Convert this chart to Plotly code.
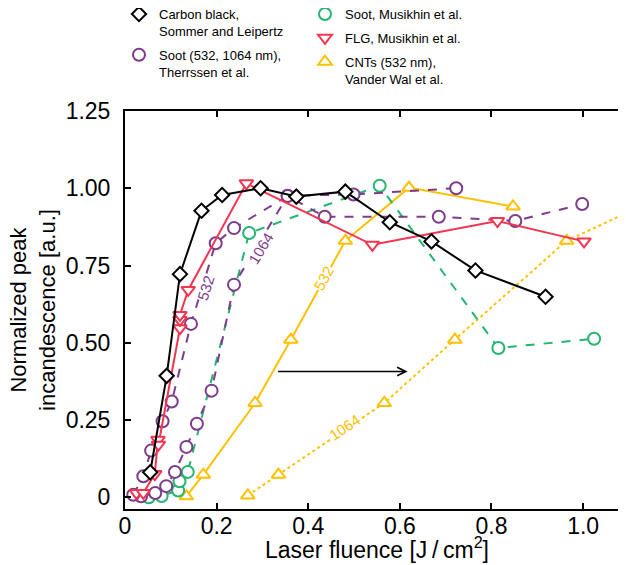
import plotly.graph_objects as go

# ---------------- data ----------------
cb_x = [0.055, 0.091, 0.120, 0.167, 0.212, 0.296, 0.374, 0.481, 0.578, 0.669, 0.765, 0.918]
cb_y = [0.081, 0.393, 0.722, 0.927, 0.978, 1.000, 0.973, 0.989, 0.890, 0.828, 0.734, 0.649]

flg_x = [0.025, 0.040, 0.065, 0.072, 0.073, 0.120, 0.120, 0.120, 0.138, 0.265, 0.540, 0.813, 1.002]
flg_y = [0.014, 0.014, 0.075, 0.186, 0.170, 0.547, 0.574, 0.590, 0.671, 1.016, 0.817, 0.894, 0.828]

th532_x = [0.018, 0.040, 0.057, 0.082, 0.102, 0.144, 0.198, 0.238, 0.355, 0.436, 0.685, 0.852, 0.998]
th532_y = [0.008, 0.068, 0.151, 0.246, 0.310, 0.561, 0.822, 0.871, 0.975, 0.908, 0.908, 0.894, 0.949]

th1064_x = [0.035, 0.066, 0.090, 0.109, 0.134, 0.157, 0.189, 0.238, 0.355, 0.499, 0.723]
th1064_y = [0.003, 0.014, 0.036, 0.082, 0.163, 0.238, 0.345, 0.688, 0.976, 0.980, 1.000]

sm_x = [0.052, 0.080, 0.116, 0.119, 0.137, 0.271, 0.556, 0.815, 1.024]
sm_y = [0.000, 0.004, 0.022, 0.052, 0.082, 0.855, 1.008, 0.483, 0.513]

cnt532_x = [0.134, 0.171, 0.284, 0.362, 0.481, 0.620, 0.847]
cnt532_y = [0.003, 0.073, 0.305, 0.510, 0.830, 1.002, 0.941]

cnt1064_x = [0.268, 0.335, 0.566, 0.720, 0.964, 1.160]
cnt1064_y = [0.006, 0.073, 0.305, 0.510, 0.830, 0.965]

x_ticks = [0, 0.2, 0.4, 0.6, 0.8, 1.0]
x_ticktext = ["0", "0.2", "0.4", "0.6", "0.8", "1.0"]
y_ticks = [0, 0.25, 0.5, 0.75, 1.0, 1.25]
y_ticktext = ["0", "0.25", "0.50", "0.75", "1.00", "1.25"]

arrow_x = [0.331, 0.617]
arrow_y = 0.407

labels = [  # text, x, y, angle, colour key
    ("532", 0.175, 0.677, -73, "purple"),
    ("1064", 0.296, 0.806, -59, "purple"),
    ("532", 0.433, 0.709, -61, "yellow"),
    ("1064", 0.479, 0.226, -34, "yellow"),
]

# ---------------- styling ----------------
FONT = "Liberation Sans, Arial, sans-serif"
C = {
    "black": "#000000",
    "purple": "#7D3C8C",
    "green": "#25B56F",
    "red": "#F5344F",
    "yellow": "#FFC000",
}

fig = go.Figure()


def series(x, y, color, symbol, dash, size=12):
    fig.add_trace(go.Scatter(
        x=x, y=y, mode="lines+markers", showlegend=False,
        line=dict(color=color, width=2, dash=dash),
        marker=dict(symbol=symbol, size=size, color="white",
                    line=dict(color=color, width=2)),
        cliponaxis=True,
    ))


series(cnt1064_x, cnt1064_y, C["yellow"], "triangle-up", "dot")
series(cnt532_x, cnt532_y, C["yellow"], "triangle-up", "solid")
series(sm_x, sm_y, C["green"], "circle", "dash")
series(th1064_x, th1064_y, C["purple"], "circle", "dash")
series(th532_x, th532_y, C["purple"], "circle", "dash")
series(flg_x, flg_y, C["red"], "triangle-down", "solid")
series(cb_x, cb_y, C["black"], "diamond", "solid", size=11)

# legend entries (markers only)
legend_entries = [
    ("Carbon black,<br>Sommer and Leipertz", C["black"], "diamond", "legend", 11),
    ("Soot (532, 1064 nm),<br>Therrssen et al.", C["purple"], "circle", "legend", 12),
    ("Soot, Musikhin et al.", C["green"], "circle", "legend2", 12),
    ("FLG, Musikhin et al.", C["red"], "triangle-down", "legend2", 12),
    ("CNTs (532 nm),<br>Vander Wal et al.", C["yellow"], "triangle-up", "legend2", 12),
]
for i, (name, col, sym, leg, sz) in enumerate(legend_entries):
    fig.add_trace(go.Scatter(
        x=[None], y=[None], mode="markers", name=name, legend=leg,
        legendgroup=f"g{i}",
        marker=dict(symbol=sym, size=sz, color="white", line=dict(color=col, width=2)),
    ))

# arrow
fig.add_annotation(x=arrow_x[1], y=arrow_y, ax=arrow_x[0], ay=arrow_y,
                   xref="x", yref="y", axref="x", ayref="y",
                   showarrow=True, arrowhead=5, arrowsize=1.3, arrowwidth=1.3,
                   arrowcolor="black", text="")

for t, x, y, ang, ck in labels:
    fig.add_annotation(x=x, y=y, xref="x", yref="y", text=t, showarrow=False,
                       textangle=ang, bgcolor="white", borderpad=0,
                       font=dict(family=FONT, size=15, color=C[ck]))

# axis titles
fig.add_annotation(x=-0.183, y=0.5, xref="paper", yref="paper",
                   text="Normalized peak<br>incandescence [a.u.]", showarrow=False,
                   textangle=-90, xanchor="center", yanchor="middle",
                   font=dict(family=FONT, size=22, color="black"))
fig.add_annotation(x=0.5, y=-0.097, xref="paper", yref="paper",
                   text="Laser fluence [J\u2009/\u2009cm<sup>2</sup>]", showarrow=False,
                   xanchor="center", yanchor="middle",
                   font=dict(family=FONT, size=23, color="black"))

legend_common = dict(
    xref="container", yref="paper", xanchor="left", yanchor="top",
    bgcolor="rgba(0,0,0,0)", font=dict(family=FONT, size=13, color="black"),
    valign="top", itemwidth=30, tracegroupgap=4,
)

fig.update_layout(
    width=626, height=565,
    margin=dict(l=117, r=6, t=103, b=64, autoexpand=False),
    paper_bgcolor="white", plot_bgcolor="white",
    font=dict(family=FONT, size=22, color="black"),
    showlegend=True,
    legend=dict(x=111 / 626, y=1 + 112 / 398, **legend_common),
    legend2=dict(x=297 / 626, y=1 + 112 / 398, **legend_common),
    xaxis=dict(
        range=[0, 1.098], tickvals=x_ticks, ticktext=x_ticktext,
        ticks="inside", ticklen=6, tickwidth=2, tickcolor="black",
        showline=True, linewidth=2, linecolor="black", mirror="ticks",
        showgrid=False, zeroline=False, ticklabelstandoff=-5,
        tickfont=dict(family=FONT, size=23),
    ),
    yaxis=dict(
        range=[-0.038, 1.25], tickvals=y_ticks, ticktext=y_ticktext,
        ticks="inside", ticklen=6, tickwidth=2, tickcolor="black",
        showline=True, linewidth=2, linecolor="black", mirror="ticks",
        showgrid=False, zeroline=False, ticklabelstandoff=8,
        tickfont=dict(family=FONT, size=23),
    ),
)

fig.write_html("out.html")
